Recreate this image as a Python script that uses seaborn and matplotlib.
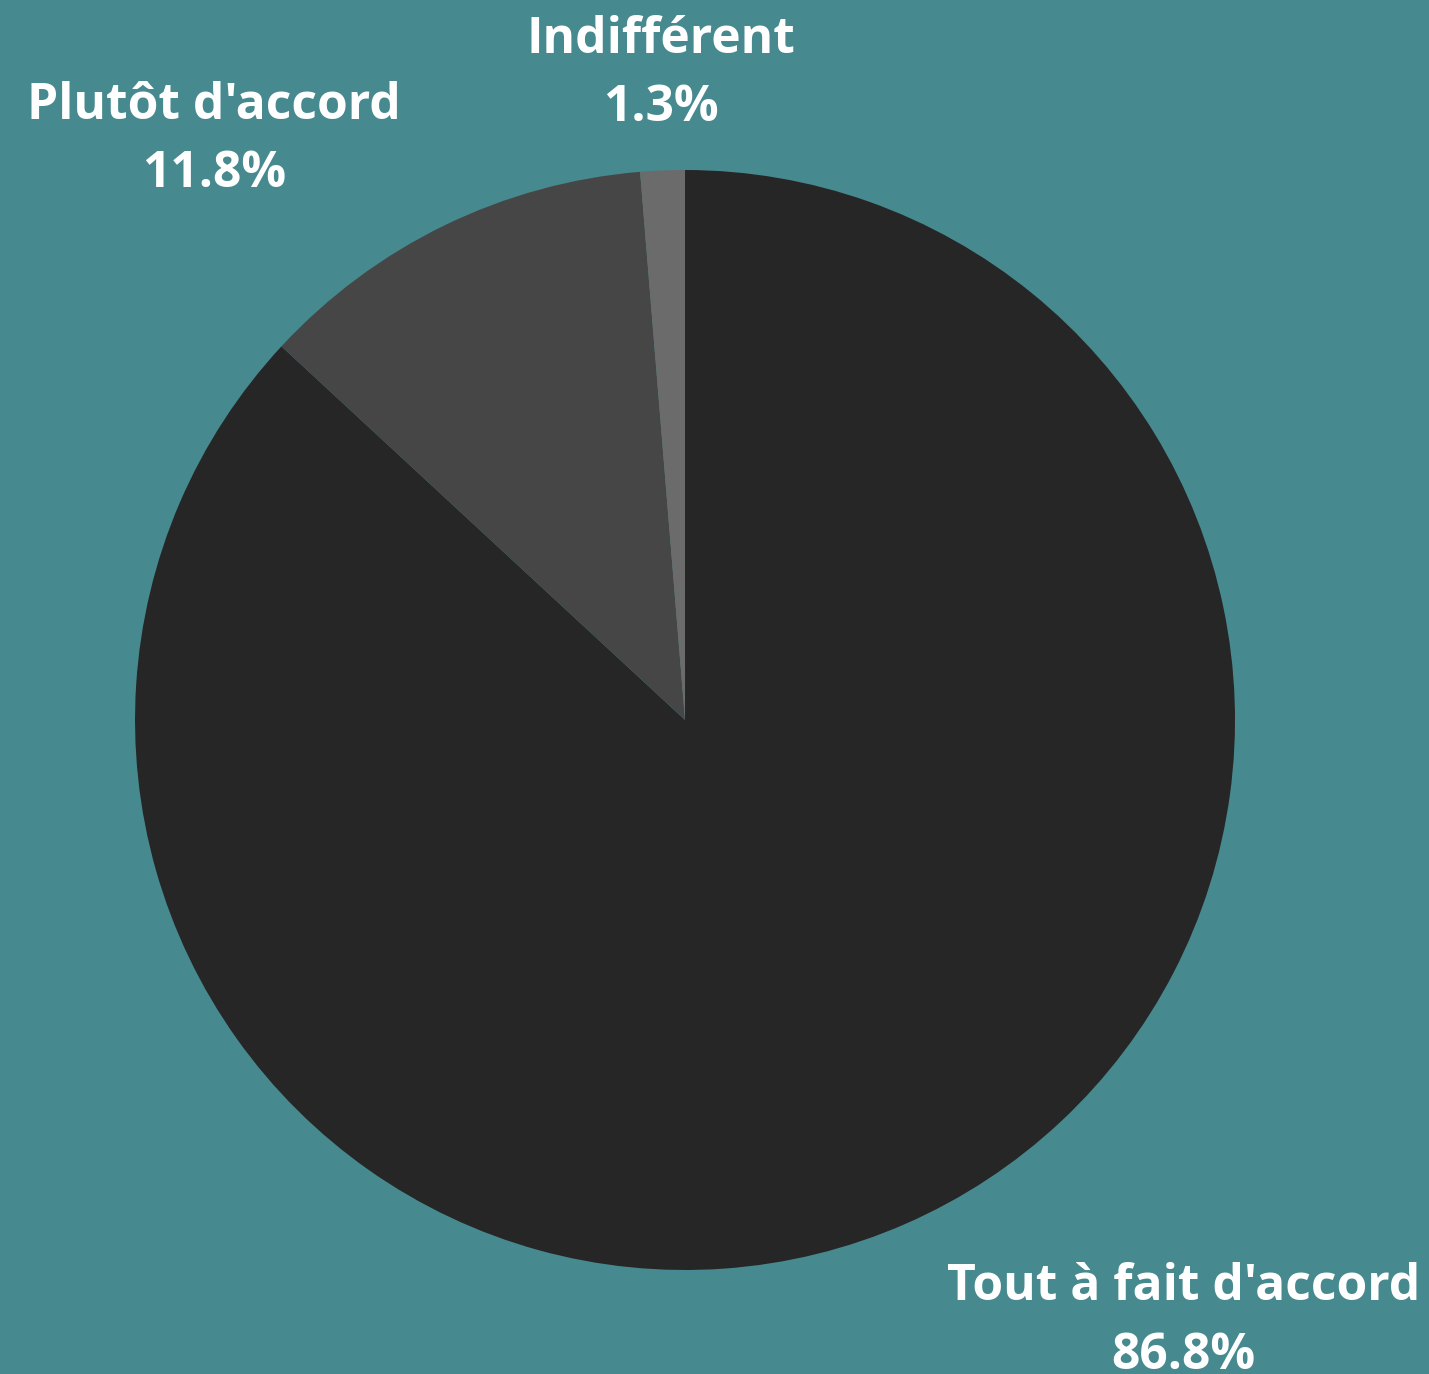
import numpy as np
import seaborn as sns
from matplotlib import pyplot as plt

categories = ["Tout à fait d'accord", "Plutôt d'accord", "Indifférent"]
shares = [86.8, 11.8, 1.3]
slice_colors = ["#262626", "#464646", "#6b6b6b"]

bg = "#468a8f"
sns.set_theme(style="white", rc={"figure.facecolor": bg, "axes.facecolor": bg})
plt.rcParams['font.family'] = ['Open Sans', 'DejaVu Sans']

fig = plt.figure(figsize=(14.29, 13.74), dpi=100)
ax = fig.add_axes([0, 0, 1, 1])

wedges, _ = ax.pie(shares, colors=slice_colors, startangle=90, counterclock=False,
                   radius=1, wedgeprops=dict(linewidth=0))

# pixel-matched view: pie centre sits left of and slightly above middle
ax.set_xlim(-1.2455, 1.3527)
ax.set_ylim(-1.189, 1.309)
ax.set_aspect('equal')
ax.axis('off')

for w, name, val in zip(wedges, categories, shares):
    mid = np.deg2rad((w.theta1 + w.theta2) / 2)
    x, y = 1.076 * np.cos(mid), 1.076 * np.sin(mid)
    if abs(x) < 0.1:
        ha, dx, dy = 'center', 0, -3
    elif x > 0:
        ha, dx, dy = 'left', 18, 0
    else:
        ha, dx, dy = 'right', -18, -8
    va = 'bottom' if y > 0 else 'top'
    ax.annotate(f"{name}\n{val:.1f}%", xy=(x, y), xytext=(dx, dy),
                textcoords='offset points', ha=ha, va=va, multialignment='center',
                fontsize=35.8, fontweight='bold', color='white', linespacing=1.48)

fig.savefig("out.png", dpi=100, facecolor=bg)
